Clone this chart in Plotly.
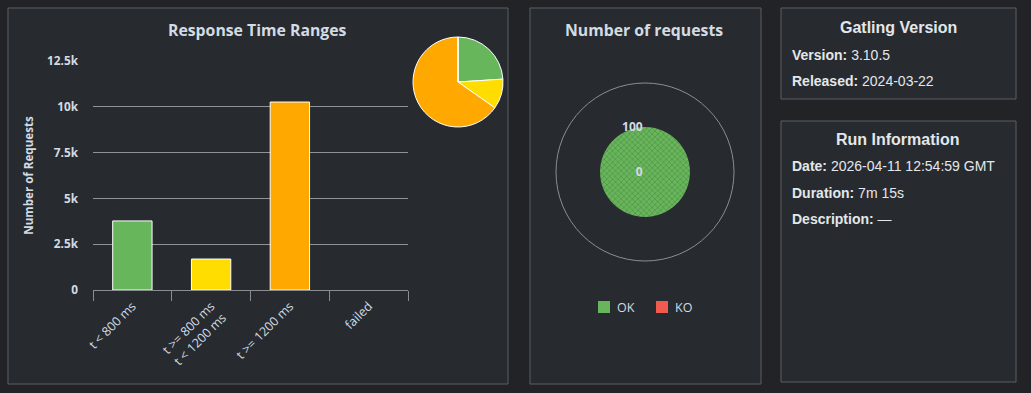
import plotly.graph_objects as go

W, H = 1031, 393

# ---------------- data ----------------
range_labels = ["t < 800 ms", "t >= 800 ms<br>t < 1200 ms", "t >= 1200 ms", "failed"]
range_counts = [3770, 1690, 10260, 0]
range_colors = ["#68b65c", "#ffdd00", "#ffa900", "#f15b4f"]
y_tickvals = [0, 2500, 5000, 7500, 10000, 12500]
y_ticktext = ["0", "2.5k", "5k", "7.5k", "10k", "12.5k"]

status_names = ["OK", "KO"]
status_colors = ["#68b65c", "#f15b4f"]
status_pct = [100, 0]
radial_ticks = [0, 100]

gatling_info = [("Version:", "3.10.5"), ("Released:", "2024-03-22")]
run_info = [("Date:", "2026-04-11 12:54:59 GMT"), ("Duration:", "7m 15s"), ("Description:", "—")]

# ---------------- helpers ----------------
def px(x):
    return x / W

def py(y):
    return 1 - y / H

PAGE_BG = "#212327"
PANEL_BG = "#272b30"
BORDER = "#5b5f64"
CHART_TXT = "#d3dbe3"
INFO_TXT = "#e4e7ea"
CH_FONT = "Open Sans"
INFO_FONT = "Liberation Sans, Arial"

fig = go.Figure()

# bars
fig.add_trace(go.Bar(
    x=range_labels, y=range_counts,
    marker=dict(color=range_colors,
                line=dict(color="#ffffff", width=[1 if v > 0 else 0 for v in range_counts])),
    width=0.5, xaxis="x", yaxis="y", showlegend=False,
))

# pie
fig.add_trace(go.Pie(
    labels=range_labels, values=range_counts,
    marker=dict(colors=range_colors, line=dict(color="#ffffff", width=1)),
    sort=False, direction="clockwise", rotation=0,
    textinfo="none", hoverinfo="label+value",
    domain=dict(x=[px(413), px(503)], y=[py(127), py(37)]),
    showlegend=False,
))

# polar "number of requests"
for name, col, val in zip(status_names, status_colors, status_pct):
    fig.add_trace(go.Barpolar(
        r=[val], theta=[0], width=[360], name=name,
        marker=dict(color=col, line=dict(width=0),
                    pattern=dict(shape="x", fgcolor="#1e3a1c", size=4, solidity=0.2,
                                 fillmode="overlay")),
        subplot="polar", showlegend=False,
    ))

fig.update_layout(
    template="none",
    width=W, height=H,
    margin=dict(l=0, r=0, t=0, b=0, pad=0, autoexpand=False),
    paper_bgcolor=PAGE_BG, plot_bgcolor="rgba(0,0,0,0)",
    font=dict(family=CH_FONT, color=CHART_TXT, size=11),
    xaxis=dict(
        domain=[px(93), px(408)], anchor="y", automargin=False,
        showline=True, linecolor="#8a8d91", linewidth=1,
        ticks="outside", tickson="boundaries", ticklen=10, tickcolor="#8a8d91",
        tickangle=-45, ticklabelstandoff=3,
        tickfont=dict(size=12.5, color=CHART_TXT, family=CH_FONT),
        showgrid=False, zeroline=False, fixedrange=True,
    ),
    yaxis=dict(
        domain=[py(290), py(61)], anchor="x", automargin=False,
        range=[0, 12500], tickvals=y_tickvals, ticktext=y_ticktext,
        showgrid=True, gridcolor="#8f9296", gridwidth=1,
        zeroline=False, showline=False, ticks="",
        ticklabelstandoff=14,
        tickfont=dict(size=11.8, color=CHART_TXT, family=CH_FONT, weight="bold"),
        title=dict(text="Number of Requests", standoff=11,
                   font=dict(size=11.6, color=CHART_TXT, family=CH_FONT, weight="bold")),
    ),
    polar=dict(
        domain=dict(x=[px(556), px(734)], y=[py(261), py(83)]),
        bgcolor="rgba(0,0,0,0)",
        radialaxis=dict(range=[0, 198], tickvals=radial_ticks, showgrid=False,
                        showline=False, ticks="", angle=90, tickangle=90,
                        side="counterclockwise",
                        tickfont=dict(size=12, color=CHART_TXT, family=CH_FONT, weight="bold")),
        angularaxis=dict(showline=True, linecolor="#8a8d91", linewidth=1,
                         showgrid=False, showticklabels=False, ticks=""),
    ),
)

shapes = []
annotations = []

def panel(x0, y0, x1, y1):
    shapes.append(dict(type="rect", xref="paper", yref="paper",
                       x0=px(x0), x1=px(x1), y0=py(y1), y1=py(y0),
                       fillcolor=PANEL_BG, line=dict(color=BORDER, width=1), layer="below"))

panel(8, 8, 508, 384)
panel(530, 8, 761, 384)
panel(781, 8, 1016, 99)
panel(781, 121, 1016, 382)

def text(x, y, s, size, color, family, xanchor="center", bold=False):
    annotations.append(dict(x=px(x), y=py(y), xref="paper", yref="paper",
                            text=s, showarrow=False, xanchor=xanchor, yanchor="middle",
                            font=dict(size=size, color=color, family=family,
                                      weight="bold" if bold else "normal")))

text(257, 30, "Response Time Ranges", 15.8, CHART_TXT, CH_FONT, bold=True)
text(644, 30, "Number of requests", 15.8, CHART_TXT, CH_FONT, bold=True)

# legend for status chart
leg_x = [598, 656]
for lx, name, col in zip(leg_x, status_names, status_colors):
    shapes.append(dict(type="rect", xref="paper", yref="paper",
                       x0=px(lx), x1=px(lx + 12), y0=py(313), y1=py(301),
                       fillcolor=col, line=dict(width=0)))
    text(lx + 17, 307.5, name, 12.5, CHART_TXT, CH_FONT, xanchor="left")

# info panels
text(898, 27, "Gatling Version", 16, INFO_TXT, INFO_FONT, bold=True)
for i, (k, v) in enumerate(gatling_info):
    text(790, 55 + i * 26, f"<b>{k}</b> {v}", 14, INFO_TXT, INFO_FONT, xanchor="left")

text(898, 139, "Run Information", 16, INFO_TXT, INFO_FONT, bold=True)
for i, (k, v) in enumerate(run_info):
    text(790, 166 + i * 26.5, f"<b>{k}</b> {v}", 14, INFO_TXT, INFO_FONT, xanchor="left")

fig.update_layout(shapes=shapes, annotations=annotations)
fig.write_html(
    "out.html",
    config={"displayModeBar": False},
    post_script="document.body.style.margin='0';document.body.style.padding='0';"
                "document.body.style.overflow='hidden';"
                f"document.body.style.background='{PAGE_BG}';",
)
